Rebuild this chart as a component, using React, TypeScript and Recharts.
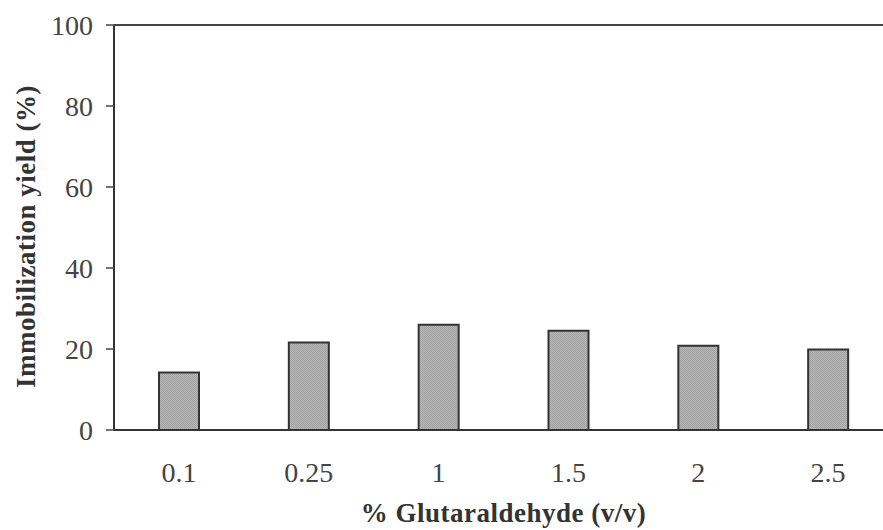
import React from 'react';
import { BarChart, Bar, XAxis, YAxis, ReferenceLine } from 'recharts';

const concentrations = ['0.1', '0.25', '1', '1.5', '2', '2.5'];
const yieldValues = [14.2, 21.6, 26.0, 24.5, 20.8, 19.9];
const yTicks = [0, 20, 40, 60, 80, 100];

const data = concentrations.map((c, i) => ({ conc: c, yield: yieldValues[i] }));

const FONT = '"Liberation Serif", "Times New Roman", serif';

const YLabel = (props: any) => {
  const { viewBox } = props;
  const cx = viewBox.x + 26;
  const cy = viewBox.y + viewBox.height / 2 + 9;
  return (
    <text
      x={cx}
      y={cy}
      transform={`rotate(-90, ${cx}, ${cy})`}
      textAnchor="middle"
      dominantBaseline="central"
      fontFamily={FONT}
      fontWeight="bold"
      fontSize={27}
      letterSpacing={0.5}
      fill="#333"
    >
      Immobilization yield (%)
    </text>
  );
};

const App = () => {
  return (
    <div style={{ position: 'absolute', left: 0, top: 0, width: 883, height: 530, overflow: 'hidden', background: '#fff' }}>
      <BarChart
        width={900}
        height={530}
        data={data}
        margin={{ top: 25, right: 7, left: 0, bottom: 0 }}
      >
        <defs>
          {/* halftone-ish grey like the scanned bars */}
          <pattern id="stipple" width="2" height="2" patternUnits="userSpaceOnUse">
            <rect width="2" height="2" fill="#b6b6b6" />
            <rect width="1" height="1" fill="#a0a0a0" />
            <rect x="1" y="1" width="1" height="1" fill="#a4a4a4" />
          </pattern>
        </defs>
        <XAxis
          dataKey="conc"
          height={100}
          tickLine={false}
          tickSize={0}
          tickMargin={32}
          axisLine={{ stroke: '#333', strokeWidth: 2 }}
          tick={{ fill: '#444', fontSize: 28, fontFamily: FONT }}
          label={{
            value: '% Glutaraldehyde (v/v)',
            position: 'insideBottom',
            offset: 8,
            style: { fontFamily: FONT, fontWeight: 'bold', fontSize: 27, letterSpacing: 0.5, fill: '#333' },
          }}
        />
        <YAxis
          width={114}
          domain={[0, 100]}
          ticks={yTicks}
          interval={0}
          tickSize={8}
          tickMargin={13}
          tickLine={{ stroke: '#444', strokeWidth: 1.5 }}
          axisLine={{ stroke: '#333', strokeWidth: 2 }}
          tick={{ fill: '#444', fontSize: 28, fontFamily: FONT }}
          label={{ content: YLabel }}
        />
        <ReferenceLine y={100} stroke="#444" strokeWidth={2} />
        <Bar
          dataKey="yield"
          barSize={40}
          fill="url(#stipple)"
          stroke="#333"
          strokeWidth={2}
          isAnimationActive={false}
        />
      </BarChart>
    </div>
  );
};

export default App;
